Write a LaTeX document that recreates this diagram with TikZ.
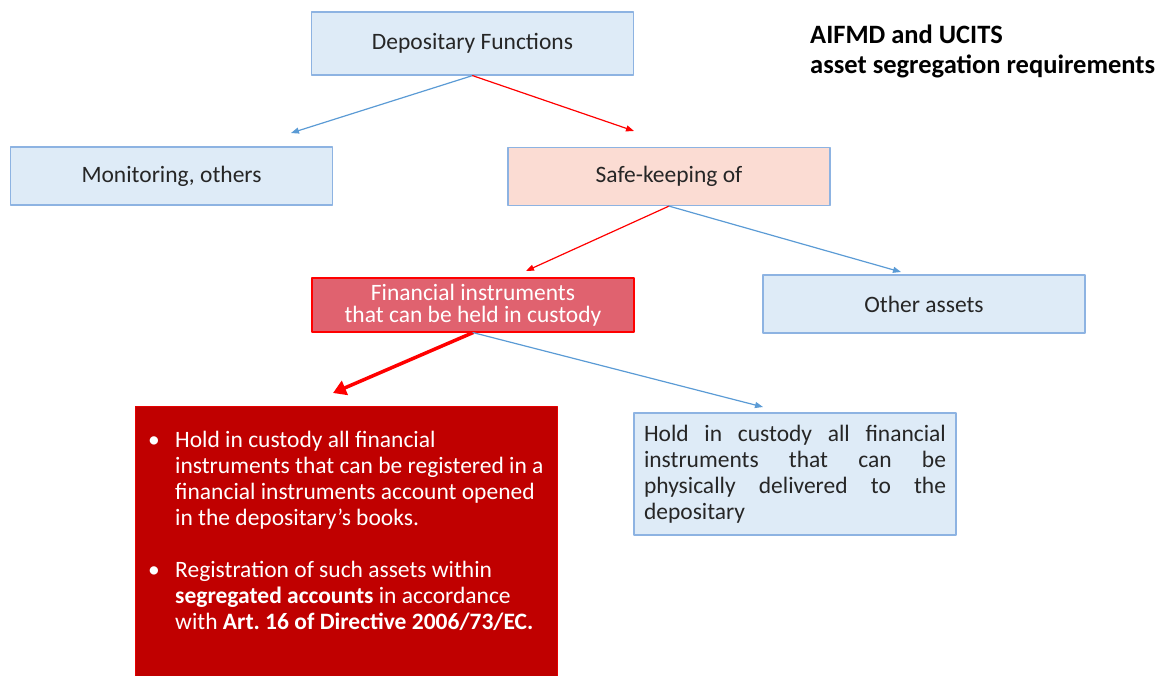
\documentclass[tikz,border=0pt]{standalone}
\usepackage{fontspec}
\setmainfont{Carlito}
\usetikzlibrary{arrows.meta}
\frenchspacing
\definecolor{depBlueFill}{HTML}{DEEBF7}
\definecolor{depBlueLine}{HTML}{8DB3E2}
\definecolor{depArrowBlue}{HTML}{5B9BD5}
\definecolor{depSafeFill}{HTML}{FBDCD3}
\definecolor{depFinFill}{HTML}{E0626F}
\definecolor{depRed}{HTML}{FF0000}
\definecolor{depDarkRed}{HTML}{C00000}
\definecolor{depText}{HTML}{262626}
\newcommand{\depfont}{\fontsize{23.5}{26}\selectfont}
\newcommand{\depbullet}{\makebox[27pt][l]{\textbullet}}
\newcommand{\depindent}{\hspace*{27pt}}
\tikzset{
    dbox/.style={draw=depBlueLine, line width=1.2pt, fill=depBlueFill, minimum width=322pt, minimum height=58pt, inner sep=0pt, align=center, font=\depfont, text=depText},
    dsafe/.style={dbox, fill=depSafeFill},
    dfin/.style={dbox, draw=depRed, fill=depFinFill, text=white, minimum height=54pt, font=\fontsize{23.5}{22.5}\selectfont},
    dred/.style={draw=depRed!60!depDarkRed, line width=1pt, fill=depDarkRed, minimum width=422pt, minimum height=270pt, inner sep=0pt},
    blueline/.style={-{Triangle[length=8pt, width=6pt]}, draw=depArrowBlue, line width=1.2pt},
    redline/.style={-{Triangle[length=8pt, width=6pt]}, draw=depRed, line width=1.2pt},
    redthick/.style={-{Triangle[length=13pt, width=15pt]}, draw=depRed, line width=3.5pt}
}

\begin{document}
\begin{tikzpicture}[x=1pt, y=-1pt, line cap=round, line join=round]
    \useasboundingbox (0,0) rectangle (1161,675);

    % boxes
    \node[dbox, minimum height=63pt] (dep) at (472.5,43.5) {Depositary Functions};
    \node[dbox] (mon) at (171.5,176) {Monitoring, others};
    \node[dsafe] (safe) at (669,176.5) {Safe-keeping of};
    \node[dfin] (fin) at (473,305) {Financial instruments\\that can be held in custody};
    \node[dbox] (oth) at (924,304) {Other assets};
    \node[dred, anchor=north west] (cust) at (135,406) {};
    \node[dbox, minimum height=122pt, text width=302pt, align=justify, inner xsep=10pt] (phys) at (795,474)
        {Hold in custody all financial\linebreak instruments that can be\linebreak physically delivered to the\linebreak depositary};

    \node[anchor=north west, inner sep=0pt, align=left, font=\depfont, text=white] (custText) at (148,431) {%
        \depbullet Hold in custody all financial\\
        \depindent instruments that can be registered in a\\
        \depindent financial instruments account opened\\
        \depindent in the depositary’s books.\\[26pt]
        \depbullet Registration of such assets within\\
        \depindent\textbf{segregated accounts} in accordance\\
        \depindent with \textbf{Art. 16 of Directive 2006/73/EC.}};

    \node[anchor=north west, inner sep=0pt, align=left, font=\fontsize{26.5}{30}\selectfont\bfseries] (title) at (810,25)
        {AIFMD and UCITS\\asset segregation requirements};

    % free ends of the arrows
    \coordinate (monTip) at (291,133);
    \coordinate (safeTip) at (634,131);
    \coordinate (finTip) at (526,271);
    \coordinate (othTip) at (901,272);
    \coordinate (custTip) at (333,393);
    \coordinate (physTip) at (763,407);

    \draw[blueline] (dep.south) -- (monTip);
    \draw[redline] (dep.south) -- (safeTip);
    \draw[redline] (safe.south) -- (finTip);
    \draw[blueline] (safe.south) -- (othTip);
    \draw[redthick] (fin.south) -- (custTip);
    \draw[blueline] (fin.south) -- (physTip);
\end{tikzpicture}
\end{document}
